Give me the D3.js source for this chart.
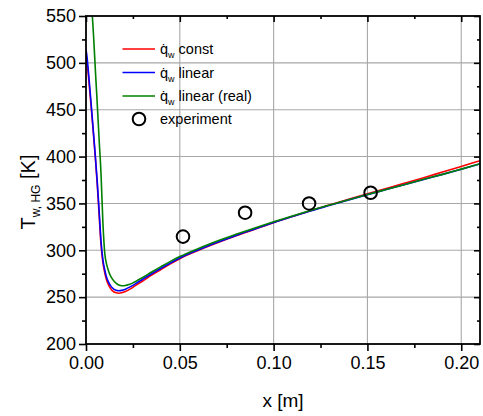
<!DOCTYPE html>
<html>
<head>
<meta charset="utf-8">
<script src="https://cdn.jsdelivr.net/npm/d3@7/dist/d3.min.js"></script>
<style>
  html, body { margin: 0; padding: 0; background: #fff; }
  svg { display: block; font-family: "Liberation Sans", Arial, Helvetica, sans-serif; }
</style>
</head>
<body>
<svg id="chart" width="483" height="416"></svg>
<script>
// Axial position along the wall [m]
const xs = [0, 0.0005, 0.001, 0.002, 0.003, 0.004, 0.005, 0.006, 0.007, 0.008, 0.009, 0.010,
  0.011, 0.012, 0.013, 0.014, 0.016, 0.0175, 0.019, 0.021, 0.023, 0.025, 0.028, 0.030,
  0.035, 0.040, 0.045, 0.050, 0.060, 0.070, 0.080, 0.090, 0.100, 0.110, 0.120, 0.130,
  0.140, 0.150, 0.160, 0.170, 0.180, 0.190, 0.200, 0.210];

// Hot-gas-side wall temperature [K] for each heat-flux assumption
const tConst = [505, 500, 492, 470, 447, 423, 398, 370, 338, 306, 287, 276,
  268, 263, 259.5, 257, 254.6, 254.2, 254.6, 256, 258, 260.5, 264.5, 267,
  273.5, 279.5, 285.5, 291, 300, 308, 315.5, 322.5, 329.5, 336, 342.5, 348.5,
  354.5, 360.3, 366, 371.7, 377.5, 383.5, 389.5, 395.5];

const tLinear = [514, 507, 497, 474, 450, 425, 400, 373, 342, 310, 290, 279,
  271, 266, 262.5, 260, 257.3, 256.8, 257.2, 258.5, 260.4, 262.6, 266.4, 268.8,
  275, 280.8, 286.5, 291.8, 300.6, 308.5, 315.9, 322.8, 329.6, 336, 342.2, 348,
  353.8, 359.4, 364.8, 370.2, 375.6, 381, 386.5, 392.2];

const tLinearReal = [640, 615, 598, 578, 560, 530, 492, 456, 418, 382, 330, 297,
  285, 278, 273, 269.5, 265, 263, 262.2, 262.4, 263.5, 265.2, 268.5, 270.8,
  276.8, 282.6, 288.2, 293.3, 302, 309.8, 317, 323.8, 330.4, 336.7, 342.7, 348.4,
  354, 359.5, 364.9, 370.3, 375.7, 381, 386.6, 392.3];

// Measured wall temperatures
const expX = [0.0517, 0.0848, 0.1189, 0.1517];
const expT = [314.6, 340.1, 350.0, 361.4];

const xMajor = [0, 0.05, 0.10, 0.15, 0.20];
const xMinor = [0.025, 0.075, 0.125, 0.175];
const yMajor = [200, 250, 300, 350, 400, 450, 500, 550];
const yMinor = [225, 275, 325, 375, 425, 475, 525];

const seriesNames = ["const", "linear", "linear (real)"];
const seriesColors = ["#ff0000", "#0000ff", "#008000"];
const seriesValues = [tConst, tLinear, tLinearReal];

const W = 483, H = 416;
const m = { left: 86, top: 16, right: 3, bottom: 72 };
const x = d3.scaleLinear().domain([0, 0.21]).range([m.left, W - m.right]);
const y = d3.scaleLinear().domain([200, 550]).range([H - m.bottom, m.top]);

const svg = d3.select("#chart");

svg.append("defs").append("clipPath").attr("id", "plotclip")
  .append("rect")
  .attr("x", m.left).attr("y", m.top)
  .attr("width", W - m.left - m.right).attr("height", H - m.top - m.bottom);

// Grid
const grid = svg.append("g").attr("stroke", "#a8a8a8").attr("stroke-width", 1.1);
grid.selectAll("line.gx").data(xMajor.filter(v => v > 0)).join("line")
  .attr("x1", d => x(d)).attr("x2", d => x(d))
  .attr("y1", y(200)).attr("y2", y(550));
grid.selectAll("line.gy").data(yMajor.filter(v => v > 200 && v < 550)).join("line")
  .attr("y1", d => y(d)).attr("y2", d => y(d))
  .attr("x1", x(0)).attr("x2", x(0.21));

// Curves
const line = d3.line().x((d, i) => x(xs[i])).y(d => y(d)).curve(d3.curveMonotoneX);
const curves = svg.append("g").attr("clip-path", "url(#plotclip)");
seriesValues.forEach((vals, k) => {
  curves.append("path").datum(vals)
    .attr("fill", "none").attr("stroke", seriesColors[k]).attr("stroke-width", 1.6)
    .attr("d", line);
});

// Experimental points
svg.append("g").selectAll("circle").data(expX).join("circle")
  .attr("cx", d => x(d)).attr("cy", (d, i) => y(expT[i]))
  .attr("r", 6.3).attr("fill", "none").attr("stroke", "#000").attr("stroke-width", 2);

// Axes: outward ticks on bottom/left, inward on top/right
const noDomain = (g) => g.call(s => s.select(".domain").remove());
const axBottom = svg.append("g").attr("transform", `translate(0,${y(200)})`);
axBottom.call(d3.axisBottom(x).tickValues(xMajor).tickFormat(d3.format(".2f")).tickSize(7).tickPadding(5)).call(noDomain);
axBottom.append("g").call(d3.axisBottom(x).tickValues(xMinor).tickFormat("").tickSize(4)).call(noDomain);

const axLeft = svg.append("g").attr("transform", `translate(${x(0)},0)`);
axLeft.call(d3.axisLeft(y).tickValues(yMajor).tickFormat(d3.format("d")).tickSize(7).tickPadding(3)).call(noDomain);
axLeft.append("g").call(d3.axisLeft(y).tickValues(yMinor).tickFormat("").tickSize(4)).call(noDomain);

const axTop = svg.append("g").attr("transform", `translate(0,${y(550)})`);
axTop.call(d3.axisBottom(x).tickValues(xMajor).tickFormat("").tickSize(6)).call(noDomain);
axTop.append("g").call(d3.axisBottom(x).tickValues(xMinor).tickFormat("").tickSize(3)).call(noDomain);

const axRight = svg.append("g").attr("transform", `translate(${x(0.21)},0)`);
axRight.call(d3.axisLeft(y).tickValues(yMajor).tickFormat("").tickSize(6)).call(noDomain);
axRight.append("g").call(d3.axisLeft(y).tickValues(yMinor).tickFormat("").tickSize(3)).call(noDomain);

svg.selectAll(".tick line").attr("stroke", "#000").attr("stroke-width", 1.6);
svg.selectAll(".tick text").attr("font-size", 18).attr("fill", "#000")
  .attr("font-family", "Liberation Sans, Arial, sans-serif");

// Frame
svg.append("rect")
  .attr("x", x(0)).attr("y", y(550))
  .attr("width", x(0.21) - x(0)).attr("height", y(200) - y(550))
  .attr("fill", "none").attr("stroke", "#000").attr("stroke-width", 1.8);

// Axis titles
svg.append("text").attr("x", x(0.105)).attr("y", 407).attr("text-anchor", "middle")
  .attr("font-size", 19).text("x [m]");

const yt = svg.append("text")
  .attr("transform", "translate(35,192) rotate(-90)")
  .attr("text-anchor", "middle").attr("font-size", 20);
yt.append("tspan").text("T");
yt.append("tspan").attr("font-size", 12).attr("dy", 5).text("w, HG");
yt.append("tspan").attr("dy", -5).text(" [K]");

// Legend
const lg = svg.append("g");
const rowY = [49, 72.5, 96, 119];
seriesNames.forEach((name, k) => {
  lg.append("line").attr("x1", 122.5).attr("x2", 155)
    .attr("y1", rowY[k]).attr("y2", rowY[k])
    .attr("stroke", seriesColors[k]).attr("stroke-width", 1.6);
  const t = lg.append("text").attr("x", 160).attr("y", rowY[k] + 5).attr("font-size", 14.5);
  t.append("tspan").text("q\u0307");
  t.append("tspan").attr("font-size", 9).attr("dy", 4).text("w");
  t.append("tspan").attr("dy", -4).text(" " + name);
});
lg.append("circle").attr("cx", 139).attr("cy", rowY[3]).attr("r", 6.3)
  .attr("fill", "none").attr("stroke", "#000").attr("stroke-width", 2);
lg.append("text").attr("x", 160).attr("y", rowY[3] + 5).attr("font-size", 14.5).text("experiment");
</script>
</body>
</html>
